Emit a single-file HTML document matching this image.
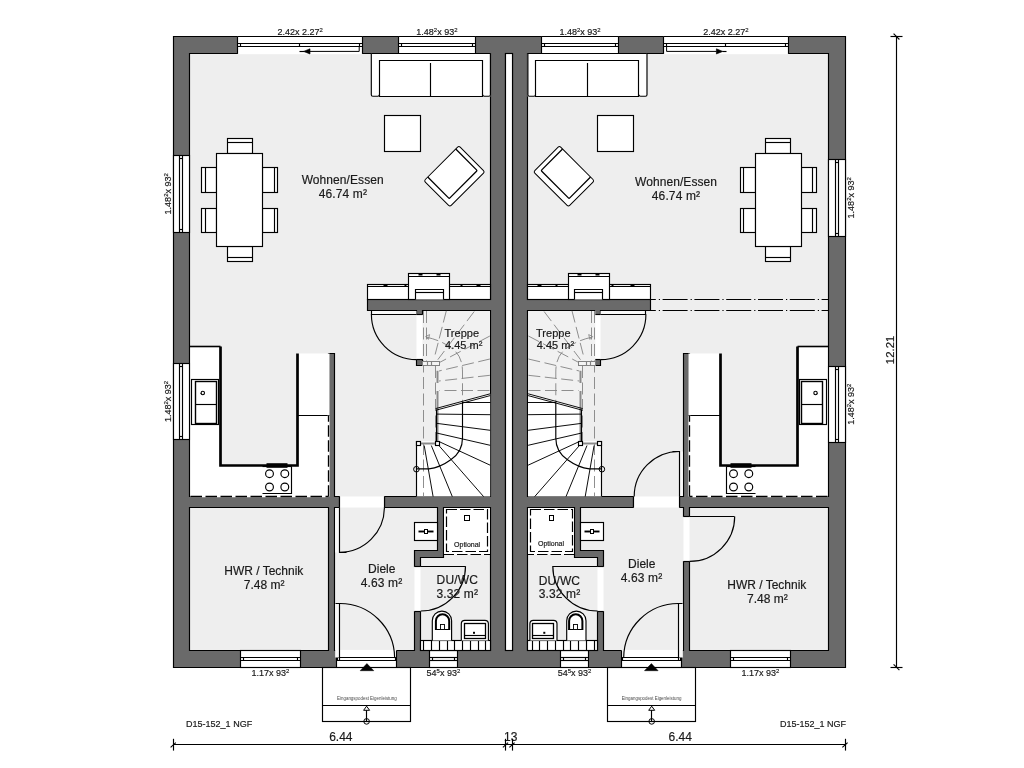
<!DOCTYPE html>
<html><head><meta charset="utf-8"><title>Grundriss</title>
<style>
html,body{margin:0;padding:0;background:#fff;}
body{width:1024px;height:768px;overflow:hidden;}
svg{display:block;will-change:transform;}
text{font-family:"Liberation Sans",sans-serif;stroke:#1a1a1a;stroke-width:0.18px;}
</style></head><body>
<svg width="1024" height="768" viewBox="0 0 1024 768">
<rect width="1024" height="768" fill="#fff"/>
<rect x="173.5" y="36.5" width="672" height="631" fill="#eeeeee"  />
<path d="M173.5,667.5 L189.5,667.5 L336.5,667.5 L490.5,667.5 L505.5,667.5 L512.5,667.5 L527.5,667.5 L828.5,667.5 L845.5,667.5 L845.5,650.5 L845.5,53.5 L845.5,36.5 L828.5,36.5 L527.5,36.5 L512.5,36.5 L505.5,36.5 L490.5,36.5 L189.5,36.5 L173.5,36.5 L173.5,53.5 L173.5,650.5 ZM334.5,650.5 L334.5,507.5 L339.5,507.5 L339.5,496.5 L334.5,496.5 L334.5,353.5 L328.5,353.5 L328.5,496.5 L189.5,496.5 L189.5,53.5 L490.5,53.5 L490.5,299.5 L367.5,299.5 L367.5,310.5 L416.5,310.5 L416.5,314.5 L422.5,314.5 L422.5,310.5 L490.5,310.5 L490.5,496.5 L384.5,496.5 L384.5,507.5 L437.5,507.5 L437.5,550.5 L420.5,550.5 L414.5,550.5 L414.5,557.5 L414.5,566.5 L420.5,566.5 L420.5,557.5 L437.5,557.5 L443.5,557.5 L443.5,550.5 L443.5,507.5 L490.5,507.5 L490.5,650.5 L420.5,650.5 L420.5,611.5 L414.5,611.5 L414.5,650.5 L336.5,650.5 ZM505.5,53.5 L512.5,53.5 L512.5,650.5 L505.5,650.5 ZM828.5,53.5 L828.5,496.5 L689.5,496.5 L689.5,353.5 L683.5,353.5 L683.5,496.5 L679.5,496.5 L679.5,507.5 L683.5,507.5 L683.5,516.5 L689.5,516.5 L689.5,507.5 L828.5,507.5 L828.5,650.5 L689.5,650.5 L689.5,561.5 L683.5,561.5 L683.5,650.5 L603.5,650.5 L603.5,611.5 L597.5,611.5 L597.5,650.5 L527.5,650.5 L527.5,507.5 L574.5,507.5 L574.5,550.5 L574.5,557.5 L580.5,557.5 L597.5,557.5 L597.5,566.5 L603.5,566.5 L603.5,557.5 L603.5,550.5 L597.5,550.5 L580.5,550.5 L580.5,507.5 L633.5,507.5 L633.5,496.5 L527.5,496.5 L527.5,310.5 L594.5,310.5 L594.5,314.5 L600.5,314.5 L600.5,310.5 L650.5,310.5 L650.5,299.5 L527.5,299.5 L527.5,53.5 ZM328.5,507.5 L328.5,650.5 L189.5,650.5 L189.5,507.5 ZM416.5,359.5 L416.5,365.5 L422.5,365.5 L422.5,359.5 ZM594.5,359.5 L594.5,365.5 L600.5,365.5 L600.5,359.5 Z" fill="#6a6a6a" stroke="#000" stroke-width="1.15" fill-rule="evenodd" stroke-linejoin="miter"/>
<rect x="505.5" y="53.5" width="7" height="597" fill="#fff" stroke="#000" stroke-width="1.15" />
<rect x="237.5" y="36.5" width="125" height="17" fill="#fff"  />
<rect x="237.5" y="36.5" width="125" height="17.7" fill="#fff"/>
<line x1="237.5" y1="36.5" x2="362.5" y2="36.5" stroke="#000" stroke-width="1.15" />
<line x1="237.5" y1="36.5" x2="237.5" y2="53.9" stroke="#000" stroke-width="1.15" />
<line x1="362.5" y1="36.5" x2="362.5" y2="53.9" stroke="#000" stroke-width="1.15" />
<line x1="237.5" y1="43.5" x2="362.5" y2="43.5" stroke="#000" stroke-width="1.15" />
<line x1="237.5" y1="46.5" x2="362.5" y2="46.5" stroke="#000" stroke-width="1.15" />
<line x1="240.5" y1="43.6" x2="240.5" y2="46.6" stroke="#000" stroke-width="1.15" />
<line x1="359.5" y1="43.6" x2="359.5" y2="46.6" stroke="#000" stroke-width="1.15" />
<rect x="398.5" y="36.5" width="77" height="17" fill="#fff"  />
<line x1="398.5" y1="36.5" x2="475.5" y2="36.5" stroke="#000" stroke-width="1.15" />
<line x1="398.5" y1="36.5" x2="398.5" y2="53.2" stroke="#000" stroke-width="1.15" />
<line x1="475.5" y1="36.5" x2="475.5" y2="53.2" stroke="#000" stroke-width="1.15" />
<line x1="398.5" y1="53.5" x2="475.5" y2="53.5" stroke="#000" stroke-width="1.15" />
<line x1="398.5" y1="43.5" x2="475.5" y2="43.5" stroke="#000" stroke-width="1.15" />
<line x1="398.5" y1="46.5" x2="475.5" y2="46.5" stroke="#000" stroke-width="1.15" />
<line x1="401.5" y1="43.6" x2="401.5" y2="46.6" stroke="#000" stroke-width="1.15" />
<line x1="472.5" y1="43.6" x2="472.5" y2="46.6" stroke="#000" stroke-width="1.15" />
<rect x="541.5" y="36.5" width="77" height="17" fill="#fff"  />
<line x1="541.5" y1="36.5" x2="618.5" y2="36.5" stroke="#000" stroke-width="1.15" />
<line x1="541.5" y1="36.5" x2="541.5" y2="53.2" stroke="#000" stroke-width="1.15" />
<line x1="618.5" y1="36.5" x2="618.5" y2="53.2" stroke="#000" stroke-width="1.15" />
<line x1="541.5" y1="53.5" x2="618.5" y2="53.5" stroke="#000" stroke-width="1.15" />
<line x1="541.5" y1="43.5" x2="618.5" y2="43.5" stroke="#000" stroke-width="1.15" />
<line x1="541.5" y1="46.5" x2="618.5" y2="46.5" stroke="#000" stroke-width="1.15" />
<line x1="544.5" y1="43.6" x2="544.5" y2="46.6" stroke="#000" stroke-width="1.15" />
<line x1="615.5" y1="43.6" x2="615.5" y2="46.6" stroke="#000" stroke-width="1.15" />
<rect x="663.5" y="36.5" width="125" height="17" fill="#fff"  />
<rect x="663.5" y="36.5" width="125" height="17.7" fill="#fff"/>
<line x1="663.5" y1="36.5" x2="788.5" y2="36.5" stroke="#000" stroke-width="1.15" />
<line x1="663.5" y1="36.5" x2="663.5" y2="53.9" stroke="#000" stroke-width="1.15" />
<line x1="788.5" y1="36.5" x2="788.5" y2="53.9" stroke="#000" stroke-width="1.15" />
<line x1="663.5" y1="43.5" x2="788.5" y2="43.5" stroke="#000" stroke-width="1.15" />
<line x1="663.5" y1="46.5" x2="788.5" y2="46.5" stroke="#000" stroke-width="1.15" />
<line x1="666.5" y1="43.6" x2="666.5" y2="46.6" stroke="#000" stroke-width="1.15" />
<line x1="785.5" y1="43.6" x2="785.5" y2="46.6" stroke="#000" stroke-width="1.15" />
<line x1="299.5" y1="43.3" x2="299.5" y2="46.3" stroke="#000" stroke-width="1.15" />
<line x1="725.5" y1="43.3" x2="725.5" y2="46.3" stroke="#000" stroke-width="1.15" />
<path d="M359.2,46.3 V51.4 H309" fill="none" stroke="#000" stroke-width="1" />
<polygon points="310,48.8 310,54 303.6,51.4" fill="#000" stroke="#000" stroke-width="0.6" />
<line x1="299.5" y1="51.5" x2="304.5" y2="51.5" stroke="#000" stroke-width="1.15" />
<path d="M666.6,46.3 V51.4 H716.5" fill="none" stroke="#000" stroke-width="1" />
<polygon points="716.4,48.8 716.4,54 722.8,51.4" fill="#000" stroke="#000" stroke-width="0.6" />
<line x1="722.5" y1="51.5" x2="726.5" y2="51.5" stroke="#000" stroke-width="1.15" />
<rect x="173.5" y="155.5" width="16" height="77" fill="#fff" stroke="#000" stroke-width="1.15" />
<line x1="179.5" y1="155.3" x2="179.5" y2="232.3" stroke="#000" stroke-width="1.15" />
<line x1="182.5" y1="155.3" x2="182.5" y2="232.3" stroke="#000" stroke-width="1.15" />
<line x1="179.5" y1="158.5" x2="182.5" y2="158.5" stroke="#000" stroke-width="1.15" />
<line x1="179.5" y1="229.5" x2="182.5" y2="229.5" stroke="#000" stroke-width="1.15" />
<rect x="173.5" y="363.5" width="16" height="76" fill="#fff" stroke="#000" stroke-width="1.15" />
<line x1="179.5" y1="363.4" x2="179.5" y2="439.4" stroke="#000" stroke-width="1.15" />
<line x1="182.5" y1="363.4" x2="182.5" y2="439.4" stroke="#000" stroke-width="1.15" />
<line x1="179.5" y1="366.5" x2="182.5" y2="366.5" stroke="#000" stroke-width="1.15" />
<line x1="179.5" y1="436.5" x2="182.5" y2="436.5" stroke="#000" stroke-width="1.15" />
<rect x="828.5" y="159.5" width="17" height="77" fill="#fff" stroke="#000" stroke-width="1.15" />
<line x1="835.5" y1="159" x2="835.5" y2="236.6" stroke="#000" stroke-width="1.15" />
<line x1="838.5" y1="159" x2="838.5" y2="236.6" stroke="#000" stroke-width="1.15" />
<line x1="835.5" y1="162.5" x2="838.5" y2="162.5" stroke="#000" stroke-width="1.15" />
<line x1="835.5" y1="233.5" x2="838.5" y2="233.5" stroke="#000" stroke-width="1.15" />
<rect x="828.5" y="366.5" width="17" height="76" fill="#fff" stroke="#000" stroke-width="1.15" />
<line x1="835.5" y1="366.2" x2="835.5" y2="442.1" stroke="#000" stroke-width="1.15" />
<line x1="838.5" y1="366.2" x2="838.5" y2="442.1" stroke="#000" stroke-width="1.15" />
<line x1="835.5" y1="369.5" x2="838.5" y2="369.5" stroke="#000" stroke-width="1.15" />
<line x1="835.5" y1="439.5" x2="838.5" y2="439.5" stroke="#000" stroke-width="1.15" />
<rect x="240.5" y="650.5" width="60" height="17" fill="#fff" stroke="#000" stroke-width="1.15" />
<line x1="240.5" y1="657.5" x2="300.5" y2="657.5" stroke="#000" stroke-width="1.15" />
<line x1="240.5" y1="660.5" x2="300.5" y2="660.5" stroke="#000" stroke-width="1.15" />
<line x1="243.5" y1="657.3" x2="243.5" y2="660.2" stroke="#000" stroke-width="1.15" />
<line x1="297.5" y1="657.3" x2="297.5" y2="660.2" stroke="#000" stroke-width="1.15" />
<rect x="429.5" y="650.5" width="28" height="17" fill="#fff" stroke="#000" stroke-width="1.15" />
<line x1="429.5" y1="657.5" x2="457.5" y2="657.5" stroke="#000" stroke-width="1.15" />
<line x1="429.5" y1="660.5" x2="457.5" y2="660.5" stroke="#000" stroke-width="1.15" />
<line x1="432.5" y1="657.3" x2="432.5" y2="660.2" stroke="#000" stroke-width="1.15" />
<line x1="454.5" y1="657.3" x2="454.5" y2="660.2" stroke="#000" stroke-width="1.15" />
<rect x="560.5" y="650.5" width="28" height="17" fill="#fff" stroke="#000" stroke-width="1.15" />
<line x1="560.5" y1="657.5" x2="588.5" y2="657.5" stroke="#000" stroke-width="1.15" />
<line x1="560.5" y1="660.5" x2="588.5" y2="660.5" stroke="#000" stroke-width="1.15" />
<line x1="563.5" y1="657.3" x2="563.5" y2="660.2" stroke="#000" stroke-width="1.15" />
<line x1="585.5" y1="657.3" x2="585.5" y2="660.2" stroke="#000" stroke-width="1.15" />
<rect x="730.5" y="650.5" width="60" height="17" fill="#fff" stroke="#000" stroke-width="1.15" />
<line x1="730.5" y1="657.5" x2="790.5" y2="657.5" stroke="#000" stroke-width="1.15" />
<line x1="730.5" y1="660.5" x2="790.5" y2="660.5" stroke="#000" stroke-width="1.15" />
<line x1="733.5" y1="657.3" x2="733.5" y2="660.2" stroke="#000" stroke-width="1.15" />
<line x1="787.5" y1="657.3" x2="787.5" y2="660.2" stroke="#000" stroke-width="1.15" />
<rect x="371.5" y="53.5" width="119" height="43" fill="#fff"  />
<path d="M371.3,53.5 V94.7 Q371.3,96.2 372.8,96.2 H377.8 Q379.3,96.2 379.3,94.7" fill="none" stroke="#000" stroke-width="1.15" />
<line x1="371.5" y1="53.5" x2="490.5" y2="53.5" stroke="#000" stroke-width="1.15" />
<path d="M482.8,94.7 Q482.8,96.2 484.3,96.2 H488.9 Q490.4,96.2 490.4,94.7 V53.5" fill="none" stroke="#000" stroke-width="1.15" />
<polygon points="379.5,96.5 379.5,60.5 482.5,60.5 482.5,96.5" fill="none" stroke="#000" stroke-width="1.15" />
<line x1="430.5" y1="63" x2="430.5" y2="96.2" stroke="#000" stroke-width="1.15" />
<rect x="384.5" y="115.5" width="36" height="36" fill="#fff" stroke="#000" stroke-width="1.15" />
<g transform="translate(454.4,176.3) rotate(45)">
<rect x="-18.3" y="-24.65" width="36.6" height="49.3" rx="1.8" fill="#fff" stroke="#000" stroke-width="1"/>
<path d="M-18.3,-20.2 H11.1 Q12.1,-20.2 12.1,-19.2 V18.4 Q12.1,19.4 11.1,19.4 H-18.3" fill="none" stroke="#000" stroke-width="1.3"/>
</g>
<rect x="227.5" y="138.5" width="25" height="15" fill="#fff" stroke="#000" stroke-width="1.15" />
<line x1="227.5" y1="142.5" x2="252.5" y2="142.5" stroke="#000" stroke-width="1.15" />
<rect x="227.5" y="246.5" width="25" height="15" fill="#fff" stroke="#000" stroke-width="1.15" />
<line x1="227.5" y1="257.5" x2="252.5" y2="257.5" stroke="#000" stroke-width="1.15" />
<rect x="201.5" y="167.5" width="15" height="25" fill="#fff" stroke="#000" stroke-width="1.15" />
<line x1="205.5" y1="167.1" x2="205.5" y2="192.7" stroke="#000" stroke-width="1.15" />
<rect x="262.5" y="167.5" width="15" height="25" fill="#fff" stroke="#000" stroke-width="1.15" />
<line x1="274.5" y1="167.1" x2="274.5" y2="192.7" stroke="#000" stroke-width="1.15" />
<rect x="201.5" y="208.5" width="15" height="24" fill="#fff" stroke="#000" stroke-width="1.15" />
<line x1="205.5" y1="208.3" x2="205.5" y2="232.7" stroke="#000" stroke-width="1.15" />
<rect x="262.5" y="208.5" width="15" height="24" fill="#fff" stroke="#000" stroke-width="1.15" />
<line x1="274.5" y1="208.3" x2="274.5" y2="232.7" stroke="#000" stroke-width="1.15" />
<rect x="216.5" y="153.5" width="46" height="93" fill="#fff" stroke="#000" stroke-width="1.15" />
<rect x="367.5" y="284.5" width="123" height="15" fill="#fff" stroke="#000" stroke-width="1.15" />
<line x1="367.5" y1="286.5" x2="490.5" y2="286.5" stroke="#000" stroke-width="1.15" />
<rect x="408.5" y="273.5" width="41" height="26" fill="#fff" stroke="#000" stroke-width="1.15" />
<line x1="408.5" y1="276.5" x2="449.5" y2="276.5" stroke="#000" stroke-width="1.15" />
<polyline points="415.5,299.5 415.5,289.5 443.5,289.5 443.5,299.5" fill="#fff" stroke="#000" stroke-width="1.15" />
<line x1="415.5" y1="292.5" x2="443.5" y2="292.5" stroke="#000" stroke-width="1.15" />
<line x1="383.5" y1="285.5" x2="387.5" y2="285.5" stroke="#000" stroke-width="2" />
<line x1="404.5" y1="285.5" x2="406.5" y2="285.5" stroke="#000" stroke-width="2" />
<line x1="460.5" y1="285.5" x2="462.5" y2="285.5" stroke="#000" stroke-width="2" />
<line x1="476.5" y1="285.5" x2="480.5" y2="285.5" stroke="#000" stroke-width="2" />
<line x1="418.5" y1="274.5" x2="422.5" y2="274.5" stroke="#000" stroke-width="2" />
<line x1="436.5" y1="274.5" x2="440.5" y2="274.5" stroke="#000" stroke-width="2" />
<polygon points="190.5,346.5 220.5,346.5 220.5,465.5 297.5,465.5 297.5,353.5 329.5,353.5 329.5,496.5 190.5,496.5" fill="#fff"  />
<line x1="189.5" y1="346.5" x2="220.5" y2="346.5" stroke="#000" stroke-width="1.6" />
<polyline points="220.5,346.5 220.5,465.5 297.5,465.5 297.5,353.5" fill="none" stroke="#000" stroke-width="2.7" />
<line x1="297.5" y1="415.5" x2="329.5" y2="415.5" stroke="#000" stroke-width="1.15" />
<line x1="190.5" y1="496.5" x2="328.5" y2="496.5" stroke="#fff" stroke-width="1.6" />
<line x1="328.5" y1="415.3" x2="328.5" y2="496.6" stroke="#fff" stroke-width="1.6" />
<line x1="190.5" y1="496.5" x2="328.5" y2="496.5" stroke="#000" stroke-width="1.3" stroke-dasharray="11.5 3.5"/>
<line x1="328.5" y1="415.3" x2="328.5" y2="496.6" stroke="#000" stroke-width="1.3" stroke-dasharray="11.5 3.5" stroke-dashoffset="5"/>
<rect x="191.5" y="379.5" width="27" height="45" fill="#fff" stroke="#000" stroke-width="1.15" />
<rect x="195.5" y="381.5" width="21" height="42" fill="#fff" stroke="#000" stroke-width="1.4" />
<line x1="195.5" y1="404.5" x2="216.5" y2="404.5" stroke="#000" stroke-width="1.15" />
<line x1="200.5" y1="393.5" x2="202.5" y2="393.5" stroke="#000" stroke-width="1.2" />
<circle cx="202.8" cy="393" r="1.7" fill="#fff" stroke="#000" stroke-width="1.1"/>
<polyline points="291.5,466.5 291.5,493.5 262.5,493.5" fill="none" stroke="#000" stroke-width="1.15" />
<line x1="262.5" y1="466.5" x2="291.5" y2="466.5" stroke="#000" stroke-width="1.15" />
<line x1="266.5" y1="465.5" x2="287.5" y2="465.5" stroke="#000" stroke-width="4.6" />
<circle cx="269.5" cy="473.7" r="3.9" fill="none" stroke="#000" stroke-width="1.15"/>
<circle cx="284.8" cy="473.7" r="3.9" fill="none" stroke="#000" stroke-width="1.15"/>
<circle cx="269.5" cy="487" r="3.9" fill="none" stroke="#000" stroke-width="1.15"/>
<circle cx="284.8" cy="487" r="3.9" fill="none" stroke="#000" stroke-width="1.15"/>
<rect x="414.5" y="522.5" width="23" height="18" fill="#fff" stroke="#000" stroke-width="1.15" />
<line x1="418.5" y1="531.5" x2="433.5" y2="531.5" stroke="#000" stroke-width="1.9" />
<rect x="424.5" y="529.5" width="3" height="4" fill="#fff" stroke="#000" stroke-width="1.0" />
<rect x="444.1" y="508.1" width="45.8" height="46.4" fill="#fff"/>
<rect x="446.5" y="509.5" width="41" height="42" fill="none" stroke="#000" stroke-width="1.2" stroke-dasharray="10.5 3"/>
<rect x="464.5" y="515.5" width="5" height="5" fill="#fff" stroke="#000" stroke-width="1.0" />
<line x1="443.5" y1="554.5" x2="490.5" y2="554.5" stroke="#000" stroke-width="1.2" stroke-dasharray="10.5 3"/>
<rect x="414.5" y="566.5" width="6" height="45" fill="#fff"  />
<line x1="414.5" y1="566.5" x2="420.5" y2="566.5" stroke="#000" stroke-width="1.15" />
<line x1="414.5" y1="611.5" x2="420.5" y2="611.5" stroke="#000" stroke-width="1.15" />
<line x1="420.5" y1="566.5" x2="465.5" y2="566.5" stroke="#000" stroke-width="1.15" />
<path d="M465.5,566.2 A44.8,44.8 0 0 1 420.7,611" fill="none" stroke="#000" stroke-width="1.15" />
<rect x="420.5" y="640.5" width="70" height="10" fill="#fff" stroke="#000" stroke-width="1.15" />
<line x1="423.5" y1="640.4" x2="423.5" y2="650.4" stroke="#000" stroke-width="1.15" />
<line x1="431.5" y1="640.4" x2="431.5" y2="650.4" stroke="#000" stroke-width="1.15" />
<line x1="439.5" y1="640.4" x2="439.5" y2="650.4" stroke="#000" stroke-width="1.15" />
<line x1="447.5" y1="640.4" x2="447.5" y2="650.4" stroke="#000" stroke-width="1.15" />
<line x1="454.5" y1="640.4" x2="454.5" y2="650.4" stroke="#000" stroke-width="1.15" />
<line x1="462.5" y1="640.4" x2="462.5" y2="650.4" stroke="#000" stroke-width="1.15" />
<line x1="470.5" y1="640.4" x2="470.5" y2="650.4" stroke="#000" stroke-width="1.15" />
<line x1="478.5" y1="640.4" x2="478.5" y2="650.4" stroke="#000" stroke-width="1.15" />
<line x1="485.5" y1="640.4" x2="485.5" y2="650.4" stroke="#000" stroke-width="1.15" />
<path d="M432.3,640.4 V620.7 A9.65,9.65 0 0 1 451.6,620.7 V640.4" fill="#fff" stroke="#000" stroke-width="1.15" />
<path d="M435.9,630.0 V620.9 A6.65,6.65 0 0 1 449.2,620.9 V630.0" fill="#fff" stroke="#000" stroke-width="2.0" />
<line x1="435.5" y1="629.5" x2="449.5" y2="629.5" stroke="#000" stroke-width="1.0" />
<rect x="440.5" y="624.5" width="4" height="5" fill="#fff" stroke="#000" stroke-width="0.9" />
<path d="M461.3,640.4 V623.8 Q461.3,620.3 464.8,620.3 H484.9 Q488.4,620.3 488.4,623.8 V640.4" fill="#fff" stroke="#000" stroke-width="1.15" />
<rect x="464.5" y="623.5" width="21" height="15" fill="#fff" stroke="#000" stroke-width="1.3" />
<line x1="464.5" y1="635.5" x2="485.5" y2="635.5" stroke="#000" stroke-width="1.15" />
<rect x="473" y="631.8" width="2" height="2" fill="#000"/>
<rect x="336.5" y="649.9" width="60" height="17.6" fill="#fff"/>
<line x1="336.5" y1="650.5" x2="336.5" y2="667.5" stroke="#000" stroke-width="1.15" />
<line x1="396.5" y1="650.5" x2="396.5" y2="667.5" stroke="#000" stroke-width="1.15" />
<line x1="336.5" y1="667.5" x2="396.5" y2="667.5" stroke="#000" stroke-width="1.15" />
<line x1="336.5" y1="657.5" x2="396.5" y2="657.5" stroke="#000" stroke-width="1.15" />
<line x1="336.5" y1="660.5" x2="396.5" y2="660.5" stroke="#000" stroke-width="1.15" />
<line x1="337.5" y1="657.3" x2="337.5" y2="660.2" stroke="#000" stroke-width="1.15" />
<line x1="395.5" y1="657.3" x2="395.5" y2="660.2" stroke="#000" stroke-width="1.15" />
<rect x="335.15" y="604" width="4.35" height="53.5" fill="#f8f8f8"/>
<polyline points="335.5,603.5 339.5,603.5 339.5,660.5" fill="none" stroke="#000" stroke-width="1.15" />
<path d="M339.5,603.5 A54.6,54.6 0 0 1 394.6,657.3" fill="none" stroke="#000" stroke-width="1.15" />
<rect x="322.5" y="667.5" width="88" height="54" fill="#fff" stroke="#000" stroke-width="1.15" />
<line x1="322.5" y1="705.5" x2="410.5" y2="705.5" stroke="#000" stroke-width="1.15" />
<circle cx="366.6" cy="721.4" r="2.8" fill="none" stroke="#000" stroke-width="1.0"/>
<line x1="366.5" y1="710" x2="366.5" y2="721.4" stroke="#000" stroke-width="1.15" />
<polygon points="366.6,706.2 363.6,710.3 369.6,710.3" fill="#fff" stroke="#000" stroke-width="1.0" />
<polygon points="366.9,663.6 360.2,670.7 373.8,670.7" fill="#000" stroke="#000" stroke-width="0.5" />
<rect x="416.5" y="314.5" width="6" height="45" fill="#fff"  />
<line x1="416.5" y1="314.5" x2="422.5" y2="314.5" stroke="#000" stroke-width="1.15" />
<line x1="416.5" y1="359.5" x2="422.5" y2="359.5" stroke="#000" stroke-width="1.15" />
<rect x="371.5" y="311.1" width="45" height="3.4" fill="#f8f8f8"/>
<polyline points="371.5,310.5 371.5,314.5 416.5,314.5" fill="none" stroke="#000" stroke-width="1.15" />
<path d="M371.4,314.3 A45.2,45.2 0 0 0 416.5,359.6" fill="none" stroke="#000" stroke-width="1.15" />
<rect x="527.5" y="53.5" width="119" height="43" fill="#fff"  />
<path d="M647,53.5 V94.7 Q647,96.2 645.5,96.2 H640.5 Q639,96.2 639,94.7" fill="none" stroke="#000" stroke-width="1.15" />
<line x1="646.5" y1="53.5" x2="527.5" y2="53.5" stroke="#000" stroke-width="1.15" />
<path d="M535.5,94.7 Q535.5,96.2 534,96.2 H529.4 Q527.9,96.2 527.9,94.7 V53.5" fill="none" stroke="#000" stroke-width="1.15" />
<polygon points="638.5,96.5 638.5,60.5 535.5,60.5 535.5,96.5" fill="none" stroke="#000" stroke-width="1.15" />
<line x1="587.5" y1="63" x2="587.5" y2="96.2" stroke="#000" stroke-width="1.15" />
<rect x="597.5" y="115.5" width="36" height="36" fill="#fff" stroke="#000" stroke-width="1.15" />
<g transform="translate(563.9,176.3) rotate(-45)">
<rect x="-18.3" y="-24.65" width="36.6" height="49.3" rx="1.8" fill="#fff" stroke="#000" stroke-width="1"/>
<path d="M18.3,-20.2 H-11.1 Q-12.1,-20.2 -12.1,-19.2 V18.4 Q-12.1,19.4 -11.1,19.4 H18.3" fill="none" stroke="#000" stroke-width="1.3"/>
</g>
<rect x="765.5" y="138.5" width="25" height="15" fill="#fff" stroke="#000" stroke-width="1.15" />
<line x1="790.5" y1="142.5" x2="765.5" y2="142.5" stroke="#000" stroke-width="1.15" />
<rect x="765.5" y="246.5" width="25" height="15" fill="#fff" stroke="#000" stroke-width="1.15" />
<line x1="790.5" y1="257.5" x2="765.5" y2="257.5" stroke="#000" stroke-width="1.15" />
<rect x="801.5" y="167.5" width="15" height="25" fill="#fff" stroke="#000" stroke-width="1.15" />
<line x1="812.5" y1="167.1" x2="812.5" y2="192.7" stroke="#000" stroke-width="1.15" />
<rect x="740.5" y="167.5" width="15" height="25" fill="#fff" stroke="#000" stroke-width="1.15" />
<line x1="743.5" y1="167.1" x2="743.5" y2="192.7" stroke="#000" stroke-width="1.15" />
<rect x="801.5" y="208.5" width="15" height="24" fill="#fff" stroke="#000" stroke-width="1.15" />
<line x1="812.5" y1="208.3" x2="812.5" y2="232.7" stroke="#000" stroke-width="1.15" />
<rect x="740.5" y="208.5" width="15" height="24" fill="#fff" stroke="#000" stroke-width="1.15" />
<line x1="743.5" y1="208.3" x2="743.5" y2="232.7" stroke="#000" stroke-width="1.15" />
<rect x="755.5" y="153.5" width="46" height="93" fill="#fff" stroke="#000" stroke-width="1.15" />
<rect x="527.5" y="284.5" width="123" height="15" fill="#fff" stroke="#000" stroke-width="1.15" />
<line x1="650.5" y1="286.5" x2="527.5" y2="286.5" stroke="#000" stroke-width="1.15" />
<rect x="568.5" y="273.5" width="41" height="26" fill="#fff" stroke="#000" stroke-width="1.15" />
<line x1="609.5" y1="276.5" x2="568.5" y2="276.5" stroke="#000" stroke-width="1.15" />
<polyline points="602.5,299.5 602.5,289.5 574.5,289.5 574.5,299.5" fill="#fff" stroke="#000" stroke-width="1.15" />
<line x1="602.5" y1="292.5" x2="574.5" y2="292.5" stroke="#000" stroke-width="1.15" />
<line x1="634.5" y1="285.5" x2="630.5" y2="285.5" stroke="#000" stroke-width="2" />
<line x1="613.5" y1="285.5" x2="611.5" y2="285.5" stroke="#000" stroke-width="2" />
<line x1="557.5" y1="285.5" x2="555.5" y2="285.5" stroke="#000" stroke-width="2" />
<line x1="541.5" y1="285.5" x2="537.5" y2="285.5" stroke="#000" stroke-width="2" />
<line x1="599.5" y1="274.5" x2="595.5" y2="274.5" stroke="#000" stroke-width="2" />
<line x1="581.5" y1="274.5" x2="577.5" y2="274.5" stroke="#000" stroke-width="2" />
<polygon points="827.5,346.5 797.5,346.5 797.5,465.5 720.5,465.5 720.5,353.5 688.5,353.5 688.5,496.5 827.5,496.5" fill="#fff"  />
<line x1="828.5" y1="346.5" x2="797.5" y2="346.5" stroke="#000" stroke-width="1.6" />
<polyline points="797.5,346.5 797.5,465.5 720.5,465.5 720.5,353.5" fill="none" stroke="#000" stroke-width="2.7" />
<line x1="720.5" y1="415.5" x2="688.5" y2="415.5" stroke="#000" stroke-width="1.15" />
<line x1="827.5" y1="496.5" x2="689.5" y2="496.5" stroke="#fff" stroke-width="1.6" />
<line x1="689.5" y1="415.3" x2="689.5" y2="496.6" stroke="#fff" stroke-width="1.6" />
<line x1="827.5" y1="496.5" x2="689.5" y2="496.5" stroke="#000" stroke-width="1.3" stroke-dasharray="11.5 3.5"/>
<line x1="689.5" y1="415.3" x2="689.5" y2="496.6" stroke="#000" stroke-width="1.3" stroke-dasharray="11.5 3.5" stroke-dashoffset="5"/>
<rect x="799.5" y="379.5" width="27" height="45" fill="#fff" stroke="#000" stroke-width="1.15" />
<rect x="801.5" y="381.5" width="21" height="42" fill="#fff" stroke="#000" stroke-width="1.4" />
<line x1="822.5" y1="404.5" x2="801.5" y2="404.5" stroke="#000" stroke-width="1.15" />
<line x1="817.5" y1="393.5" x2="815.5" y2="393.5" stroke="#000" stroke-width="1.2" />
<circle cx="815.5" cy="393" r="1.7" fill="#fff" stroke="#000" stroke-width="1.1"/>
<polyline points="726.5,466.5 726.5,493.5 755.5,493.5" fill="none" stroke="#000" stroke-width="1.15" />
<line x1="755.5" y1="466.5" x2="726.5" y2="466.5" stroke="#000" stroke-width="1.15" />
<line x1="751.5" y1="465.5" x2="730.5" y2="465.5" stroke="#000" stroke-width="4.6" />
<circle cx="748.8" cy="473.7" r="3.9" fill="none" stroke="#000" stroke-width="1.15"/>
<circle cx="733.5" cy="473.7" r="3.9" fill="none" stroke="#000" stroke-width="1.15"/>
<circle cx="748.8" cy="487" r="3.9" fill="none" stroke="#000" stroke-width="1.15"/>
<circle cx="733.5" cy="487" r="3.9" fill="none" stroke="#000" stroke-width="1.15"/>
<rect x="580.5" y="522.5" width="23" height="18" fill="#fff" stroke="#000" stroke-width="1.15" />
<line x1="599.5" y1="531.5" x2="584.5" y2="531.5" stroke="#000" stroke-width="1.9" />
<rect x="590.5" y="529.5" width="3" height="4" fill="#fff" stroke="#000" stroke-width="1.0" />
<rect x="528.1" y="508.1" width="45.8" height="46.4" fill="#fff"/>
<rect x="530.5" y="509.5" width="42" height="42" fill="none" stroke="#000" stroke-width="1.2" stroke-dasharray="10.5 3"/>
<rect x="549.5" y="515.5" width="4" height="5" fill="#fff" stroke="#000" stroke-width="1.0" />
<line x1="574.5" y1="554.5" x2="527.5" y2="554.5" stroke="#000" stroke-width="1.2" stroke-dasharray="10.5 3"/>
<rect x="597.5" y="566.5" width="6" height="45" fill="#fff"  />
<line x1="603.5" y1="566.5" x2="597.5" y2="566.5" stroke="#000" stroke-width="1.15" />
<line x1="603.5" y1="611.5" x2="597.5" y2="611.5" stroke="#000" stroke-width="1.15" />
<line x1="597.5" y1="566.5" x2="552.5" y2="566.5" stroke="#000" stroke-width="1.15" />
<path d="M552.8,566.2 A44.8,44.8 0 0 0 597.6,611" fill="none" stroke="#000" stroke-width="1.15" />
<rect x="527.5" y="640.5" width="70" height="10" fill="#fff" stroke="#000" stroke-width="1.15" />
<line x1="594.5" y1="640.4" x2="594.5" y2="650.4" stroke="#000" stroke-width="1.15" />
<line x1="586.5" y1="640.4" x2="586.5" y2="650.4" stroke="#000" stroke-width="1.15" />
<line x1="578.5" y1="640.4" x2="578.5" y2="650.4" stroke="#000" stroke-width="1.15" />
<line x1="570.5" y1="640.4" x2="570.5" y2="650.4" stroke="#000" stroke-width="1.15" />
<line x1="563.5" y1="640.4" x2="563.5" y2="650.4" stroke="#000" stroke-width="1.15" />
<line x1="555.5" y1="640.4" x2="555.5" y2="650.4" stroke="#000" stroke-width="1.15" />
<line x1="547.5" y1="640.4" x2="547.5" y2="650.4" stroke="#000" stroke-width="1.15" />
<line x1="539.5" y1="640.4" x2="539.5" y2="650.4" stroke="#000" stroke-width="1.15" />
<line x1="532.5" y1="640.4" x2="532.5" y2="650.4" stroke="#000" stroke-width="1.15" />
<path d="M586,640.4 V620.7 A9.65,9.65 0 0 0 566.7,620.7 V640.4" fill="#fff" stroke="#000" stroke-width="1.15" />
<path d="M582.4,630.0 V620.9 A6.65,6.65 0 0 0 569.1,620.9 V630.0" fill="#fff" stroke="#000" stroke-width="2.0" />
<line x1="582.5" y1="629.5" x2="568.5" y2="629.5" stroke="#000" stroke-width="1.0" />
<rect x="573.5" y="624.5" width="4" height="5" fill="#fff" stroke="#000" stroke-width="0.9" />
<path d="M557,640.4 V623.8 Q557,620.3 553.5,620.3 H533.4 Q529.9,620.3 529.9,623.8 V640.4" fill="#fff" stroke="#000" stroke-width="1.15" />
<rect x="532.5" y="623.5" width="21" height="15" fill="#fff" stroke="#000" stroke-width="1.3" />
<line x1="553.5" y1="635.5" x2="532.5" y2="635.5" stroke="#000" stroke-width="1.15" />
<rect x="543.3" y="631.8" width="2" height="2" fill="#000"/>
<rect x="621.5" y="649.9" width="60" height="17.6" fill="#fff"/>
<line x1="681.5" y1="650.5" x2="681.5" y2="667.5" stroke="#000" stroke-width="1.15" />
<line x1="621.5" y1="650.5" x2="621.5" y2="667.5" stroke="#000" stroke-width="1.15" />
<line x1="681.5" y1="667.5" x2="621.5" y2="667.5" stroke="#000" stroke-width="1.15" />
<line x1="681.5" y1="657.5" x2="621.5" y2="657.5" stroke="#000" stroke-width="1.15" />
<line x1="681.5" y1="660.5" x2="621.5" y2="660.5" stroke="#000" stroke-width="1.15" />
<line x1="680.5" y1="657.3" x2="680.5" y2="660.2" stroke="#000" stroke-width="1.15" />
<line x1="622.5" y1="657.3" x2="622.5" y2="660.2" stroke="#000" stroke-width="1.15" />
<rect x="678.5" y="604" width="4.35" height="53.5" fill="#f8f8f8"/>
<polyline points="682.5,603.5 678.5,603.5 678.5,660.5" fill="none" stroke="#000" stroke-width="1.15" />
<path d="M678.8,603.5 A54.6,54.6 0 0 0 623.7,657.3" fill="none" stroke="#000" stroke-width="1.15" />
<rect x="607.5" y="667.5" width="88" height="54" fill="#fff" stroke="#000" stroke-width="1.15" />
<line x1="695.5" y1="705.5" x2="607.5" y2="705.5" stroke="#000" stroke-width="1.15" />
<circle cx="651.7" cy="721.4" r="2.8" fill="none" stroke="#000" stroke-width="1.0"/>
<line x1="651.5" y1="710" x2="651.5" y2="721.4" stroke="#000" stroke-width="1.15" />
<polygon points="651.7,706.2 654.7,710.3 648.7,710.3" fill="#fff" stroke="#000" stroke-width="1.0" />
<polygon points="651.4,663.6 658.1,670.7 644.5,670.7" fill="#000" stroke="#000" stroke-width="0.5" />
<rect x="594.5" y="314.5" width="6" height="45" fill="#fff"  />
<line x1="600.5" y1="314.5" x2="594.5" y2="314.5" stroke="#000" stroke-width="1.15" />
<line x1="600.5" y1="359.5" x2="594.5" y2="359.5" stroke="#000" stroke-width="1.15" />
<rect x="600.5" y="311.1" width="45" height="3.4" fill="#f8f8f8"/>
<polyline points="645.5,310.5 645.5,314.5 600.5,314.5" fill="none" stroke="#000" stroke-width="1.15" />
<path d="M645.9,314.3 A45.2,45.2 0 0 1 600.8,359.6" fill="none" stroke="#000" stroke-width="1.15" />
<rect x="339.5" y="496.5" width="45" height="11" fill="#fff"  />
<line x1="339.5" y1="496.6" x2="339.5" y2="507.3" stroke="#000" stroke-width="1.15" />
<line x1="384.5" y1="496.6" x2="384.5" y2="507.3" stroke="#000" stroke-width="1.15" />
<rect x="335.15" y="508.1" width="4.35" height="44.4" fill="#f8f8f8"/>
<polyline points="339.5,507.5 339.5,552.5 346.5,552.5" fill="none" stroke="#000" stroke-width="1.15" />
<path d="M384.4,507.3 A45,45 0 0 1 339.4,552.4" fill="none" stroke="#000" stroke-width="1.15" />
<rect x="633.5" y="496.5" width="46" height="11" fill="#fff"  />
<line x1="633.5" y1="496.6" x2="633.5" y2="507.3" stroke="#000" stroke-width="1.15" />
<line x1="679.5" y1="496.6" x2="679.5" y2="507.3" stroke="#000" stroke-width="1.15" />
<rect x="679.5" y="451.5" width="3.35" height="44.4" fill="#f8f8f8"/>
<polyline points="672.5,451.5 679.5,451.5 679.5,496.5" fill="none" stroke="#000" stroke-width="1.15" />
<path d="M634.2,496.6 A45,45 0 0 1 679.3,451.5" fill="none" stroke="#000" stroke-width="1.15" />
<rect x="683.5" y="516.5" width="6" height="45" fill="#fff"  />
<line x1="683.5" y1="516.5" x2="689.5" y2="516.5" stroke="#000" stroke-width="1.15" />
<line x1="683.5" y1="561.5" x2="689.5" y2="561.5" stroke="#000" stroke-width="1.15" />
<line x1="689.5" y1="516.5" x2="734.5" y2="516.5" stroke="#000" stroke-width="1.15" />
<path d="M734.7,516.5 A45,45 0 0 1 689.6,561.4" fill="none" stroke="#000" stroke-width="1.15" />
<line x1="650.5" y1="299.5" x2="828.5" y2="299.5" stroke="#000" stroke-width="1.2" stroke-dasharray="25 3 1.2 2.6" stroke-dashoffset="19.7"/>
<line x1="650.5" y1="310.5" x2="828.5" y2="310.5" stroke="#000" stroke-width="1.2" stroke-dasharray="25 3 1.2 2.6" stroke-dashoffset="19.7"/>
<polygon points="423,311 490,311 490,394 436,408.6 436,365.6 423,365.6" fill="#f1f1f1"  />
<polygon points="435.6,408.6 490.2,393.8 490.2,496.6 416.3,496.6 416.3,441.3 437,441.3" fill="#fff"  />
<line x1="423.5" y1="311" x2="423.5" y2="496.6" stroke="#828282" stroke-width="0.9" stroke-dasharray="12 4.5"/>
<line x1="426.5" y1="311" x2="426.5" y2="363" stroke="#828282" stroke-width="0.9" stroke-dasharray="12 4.5"/>
<line x1="435.5" y1="366" x2="435.5" y2="441" stroke="#828282" stroke-width="0.9" stroke-dasharray="12 4.5"/>
<path d="M426.5,337.2 Q444,341 455,351 Q462.5,358 462.5,372 V402" fill="none" stroke="#828282" stroke-width="0.9" stroke-dasharray="12 4.5"/>
<polygon points="425.6,336.6 429.6,334.6 428.4,339.4" fill="none" stroke="#828282" stroke-width="0.8" />
<line x1="446.3" y1="310.9" x2="434.5" y2="357" stroke="#828282" stroke-width="0.9" stroke-dasharray="12 4.5"/>
<line x1="474.2" y1="311.5" x2="437.8" y2="359.7" stroke="#828282" stroke-width="0.9" stroke-dasharray="12 4.5"/>
<line x1="489.9" y1="336" x2="438.5" y2="363" stroke="#828282" stroke-width="0.9" stroke-dasharray="12 4.5"/>
<line x1="489.9" y1="359" x2="439" y2="371" stroke="#828282" stroke-width="0.9" stroke-dasharray="12 4.5"/>
<line x1="489.9" y1="375.3" x2="439" y2="381" stroke="#828282" stroke-width="0.9" stroke-dasharray="12 4.5"/>
<line x1="489.5" y1="390.5" x2="439.5" y2="390.5" stroke="#828282" stroke-width="0.9" stroke-dasharray="12 4.5"/>
<rect x="422.5" y="361.5" width="17" height="4" fill="#f4f4f4" stroke="#828282" stroke-width="1" />
<line x1="427.5" y1="361.2" x2="427.5" y2="365.2" stroke="#828282" stroke-width="1.15" />
<line x1="431.5" y1="361.2" x2="431.5" y2="365.2" stroke="#828282" stroke-width="1.15" />
<line x1="437.5" y1="370.8" x2="437.5" y2="383" stroke="#8a8a8a" stroke-width="2" />
<line x1="437.5" y1="391" x2="437.5" y2="441" stroke="#8a8a8a" stroke-width="2" />
<line x1="435.6" y1="408.6" x2="490.2" y2="393.8" stroke="#000" stroke-width="0.95" />
<line x1="436" y1="410.2" x2="490.2" y2="395.6" stroke="#000" stroke-width="0.95" />
<polyline points="436.5,409.5 436.5,441.5" fill="none" stroke="#000" stroke-width="1.15" />
<polyline points="420.5,441.5 416.5,441.5 416.5,496.5" fill="none" stroke="#000" stroke-width="1.15" />
<line x1="420.5" y1="443.5" x2="435.5" y2="443.5" stroke="#8a8a8a" stroke-width="2" />
<rect x="416.5" y="441.5" width="4" height="4" fill="#fff" stroke="#000" stroke-width="1.15" />
<rect x="435.5" y="441.5" width="4" height="4" fill="#fff" stroke="#000" stroke-width="1.15" />
<line x1="462.5" y1="402.5" x2="490.5" y2="402.5" stroke="#000" stroke-width="0.95" />
<line x1="437" y1="414.1" x2="490.2" y2="414.7" stroke="#000" stroke-width="0.95" />
<line x1="437" y1="423.4" x2="490.2" y2="430.3" stroke="#000" stroke-width="0.95" />
<line x1="437" y1="433.1" x2="490.2" y2="445.3" stroke="#000" stroke-width="0.95" />
<line x1="439.3" y1="441.7" x2="490.2" y2="465.2" stroke="#000" stroke-width="0.95" />
<line x1="439.3" y1="446" x2="483.6" y2="496.6" stroke="#000" stroke-width="0.95" />
<line x1="431.3" y1="445.5" x2="452.3" y2="496.6" stroke="#000" stroke-width="0.95" />
<line x1="424.2" y1="445.5" x2="433.1" y2="496.6" stroke="#000" stroke-width="0.95" />
<path d="M462.5,401.9 V438 Q462.5,452 450.8,459.7 Q440,467.5 428.9,468.9 H416.4" fill="none" stroke="#000" stroke-width="1.15" />
<circle cx="416.4" cy="469.2" r="2.8" fill="none" stroke="#000" stroke-width="1.0"/>
<polygon points="595.3,311 528.3,311 528.3,394 582.3,408.6 582.3,365.6 595.3,365.6" fill="#f1f1f1"  />
<polygon points="582.7,408.6 528.1,393.8 528.1,496.6 602,496.6 602,441.3 581.3,441.3" fill="#fff"  />
<line x1="594.5" y1="311" x2="594.5" y2="496.6" stroke="#828282" stroke-width="0.9" stroke-dasharray="12 4.5"/>
<line x1="591.5" y1="311" x2="591.5" y2="363" stroke="#828282" stroke-width="0.9" stroke-dasharray="12 4.5"/>
<line x1="582.5" y1="366" x2="582.5" y2="441" stroke="#828282" stroke-width="0.9" stroke-dasharray="12 4.5"/>
<path d="M591.8,337.2 Q574.3,341 563.3,351 Q555.8,358 555.8,372 V402" fill="none" stroke="#828282" stroke-width="0.9" stroke-dasharray="12 4.5"/>
<polygon points="592.7,336.6 588.7,334.6 589.9,339.4" fill="none" stroke="#828282" stroke-width="0.8" />
<line x1="572" y1="310.9" x2="583.8" y2="357" stroke="#828282" stroke-width="0.9" stroke-dasharray="12 4.5"/>
<line x1="544.1" y1="311.5" x2="580.5" y2="359.7" stroke="#828282" stroke-width="0.9" stroke-dasharray="12 4.5"/>
<line x1="528.4" y1="336" x2="579.8" y2="363" stroke="#828282" stroke-width="0.9" stroke-dasharray="12 4.5"/>
<line x1="528.4" y1="359" x2="579.3" y2="371" stroke="#828282" stroke-width="0.9" stroke-dasharray="12 4.5"/>
<line x1="528.4" y1="375.3" x2="579.3" y2="381" stroke="#828282" stroke-width="0.9" stroke-dasharray="12 4.5"/>
<line x1="528.5" y1="390.5" x2="578.5" y2="390.5" stroke="#828282" stroke-width="0.9" stroke-dasharray="12 4.5"/>
<rect x="578.5" y="361.5" width="17" height="4" fill="#f4f4f4" stroke="#828282" stroke-width="1" />
<line x1="590.5" y1="361.2" x2="590.5" y2="365.2" stroke="#828282" stroke-width="1.15" />
<line x1="586.5" y1="361.2" x2="586.5" y2="365.2" stroke="#828282" stroke-width="1.15" />
<line x1="580.5" y1="370.8" x2="580.5" y2="383" stroke="#8a8a8a" stroke-width="2" />
<line x1="580.5" y1="391" x2="580.5" y2="441" stroke="#8a8a8a" stroke-width="2" />
<line x1="582.7" y1="408.6" x2="528.1" y2="393.8" stroke="#000" stroke-width="0.95" />
<line x1="582.3" y1="410.2" x2="528.1" y2="395.6" stroke="#000" stroke-width="0.95" />
<polyline points="581.5,409.5 581.5,441.5" fill="none" stroke="#000" stroke-width="1.15" />
<polyline points="597.5,441.5 601.5,441.5 601.5,496.5" fill="none" stroke="#000" stroke-width="1.15" />
<line x1="597.5" y1="443.5" x2="582.5" y2="443.5" stroke="#8a8a8a" stroke-width="2" />
<rect x="597.5" y="441.5" width="4" height="4" fill="#fff" stroke="#000" stroke-width="1.15" />
<rect x="578.5" y="441.5" width="4" height="4" fill="#fff" stroke="#000" stroke-width="1.15" />
<line x1="555.5" y1="402.5" x2="527.5" y2="402.5" stroke="#000" stroke-width="0.95" />
<line x1="581.3" y1="414.1" x2="528.1" y2="414.7" stroke="#000" stroke-width="0.95" />
<line x1="581.3" y1="423.4" x2="528.1" y2="430.3" stroke="#000" stroke-width="0.95" />
<line x1="581.3" y1="433.1" x2="528.1" y2="445.3" stroke="#000" stroke-width="0.95" />
<line x1="579" y1="441.7" x2="528.1" y2="465.2" stroke="#000" stroke-width="0.95" />
<line x1="579" y1="446" x2="534.7" y2="496.6" stroke="#000" stroke-width="0.95" />
<line x1="587" y1="445.5" x2="566" y2="496.6" stroke="#000" stroke-width="0.95" />
<line x1="594.1" y1="445.5" x2="585.2" y2="496.6" stroke="#000" stroke-width="0.95" />
<path d="M555.8,401.9 V438 Q555.8,452 567.5,459.7 Q578.3,467.5 589.4,468.9 H601.9" fill="none" stroke="#000" stroke-width="1.15" />
<circle cx="601.9" cy="469.2" r="2.8" fill="none" stroke="#000" stroke-width="1.0"/>
<text x="342.7" y="184.4" font-size="12" text-anchor="middle" fill="#1a1a1a" letter-spacing="0.08">Wohnen/Essen</text>
<text x="342.9" y="198" font-size="12" text-anchor="middle" fill="#1a1a1a" letter-spacing="0.12">46.74 m²</text>
<text x="676" y="185.5" font-size="12" text-anchor="middle" fill="#1a1a1a" letter-spacing="0.08">Wohnen/Essen</text>
<text x="676" y="199.5" font-size="12" text-anchor="middle" fill="#1a1a1a" letter-spacing="0.12">46.74 m²</text>
<text x="461.8" y="336.9" font-size="11" text-anchor="middle" fill="#1a1a1a" >Treppe</text>
<text x="463.7" y="349.2" font-size="11" text-anchor="middle" fill="#1a1a1a" >4.45 m²</text>
<text x="553.3" y="336.6" font-size="11" text-anchor="middle" fill="#1a1a1a" >Treppe</text>
<text x="555.4" y="349.3" font-size="11" text-anchor="middle" fill="#1a1a1a" >4.45 m²</text>
<text x="263.8" y="575.2" font-size="12" text-anchor="middle" fill="#1a1a1a" >HWR / Technik</text>
<text x="264.1" y="588.8" font-size="12" text-anchor="middle" fill="#1a1a1a" >7.48 m²</text>
<text x="766.8" y="589.3" font-size="12" text-anchor="middle" fill="#1a1a1a" >HWR / Technik</text>
<text x="767.3" y="603" font-size="12" text-anchor="middle" fill="#1a1a1a" >7.48 m²</text>
<text x="381.8" y="572.7" font-size="12" text-anchor="middle" fill="#1a1a1a" >Diele</text>
<text x="381.5" y="586.8" font-size="12" text-anchor="middle" fill="#1a1a1a" letter-spacing="0.12">4.63 m²</text>
<text x="641.8" y="568" font-size="12" text-anchor="middle" fill="#1a1a1a" >Diele</text>
<text x="641.5" y="582.2" font-size="12" text-anchor="middle" fill="#1a1a1a" letter-spacing="0.12">4.63 m²</text>
<text x="457.3" y="583.7" font-size="12" text-anchor="middle" fill="#1a1a1a" letter-spacing="0.15">DU/WC</text>
<text x="457.3" y="597.6" font-size="12" text-anchor="middle" fill="#1a1a1a" letter-spacing="0.12">3.32 m²</text>
<text x="559.5" y="584.7" font-size="12" text-anchor="middle" fill="#1a1a1a" letter-spacing="0.15">DU/WC</text>
<text x="559.5" y="598.3" font-size="12" text-anchor="middle" fill="#1a1a1a" letter-spacing="0.12">3.32 m²</text>
<text x="467.1" y="546.5" font-size="7" text-anchor="middle" fill="#1a1a1a" >Optional</text>
<text x="551" y="545.9" font-size="7" text-anchor="middle" fill="#1a1a1a" >Optional</text>
<text x="300.1" y="34.9" font-size="9" text-anchor="middle" fill="#1a1a1a" >2.42x 2.27<tspan dy="-3.24" font-size="5.94">2</tspan></text>
<text x="436.9" y="34.9" font-size="9" text-anchor="middle" fill="#1a1a1a" >1.48<tspan dy="-3.24" font-size="5.94">2</tspan><tspan dy="3.24">x</tspan> 93<tspan dy="-3.24" font-size="5.94">2</tspan></text>
<text x="580" y="34.9" font-size="9" text-anchor="middle" fill="#1a1a1a" >1.48<tspan dy="-3.24" font-size="5.94">2</tspan><tspan dy="3.24">x</tspan> 93<tspan dy="-3.24" font-size="5.94">2</tspan></text>
<text x="725.9" y="34.9" font-size="9" text-anchor="middle" fill="#1a1a1a" >2.42x 2.27<tspan dy="-3.24" font-size="5.94">2</tspan></text>
<text x="270.4" y="675.9" font-size="9" text-anchor="middle" fill="#1a1a1a" >1.17x 93<tspan dy="-3.24" font-size="5.94">2</tspan></text>
<text x="443.4" y="675.9" font-size="9" text-anchor="middle" fill="#1a1a1a" >54<tspan dy="-3.24" font-size="5.94">5</tspan><tspan dy="3.24">x</tspan> 93<tspan dy="-3.24" font-size="5.94">2</tspan></text>
<text x="574.6" y="675.9" font-size="9" text-anchor="middle" fill="#1a1a1a" >54<tspan dy="-3.24" font-size="5.94">5</tspan><tspan dy="3.24">x</tspan> 93<tspan dy="-3.24" font-size="5.94">2</tspan></text>
<text x="760.3" y="675.9" font-size="9" text-anchor="middle" fill="#1a1a1a" >1.17x 93<tspan dy="-3.24" font-size="5.94">2</tspan></text>
<text x="171.3" y="193.8" font-size="9" text-anchor="middle" fill="#1a1a1a" transform="rotate(-90 171.3 193.8)">1.48<tspan dy="-3.24" font-size="5.94">2</tspan><tspan dy="3.24">x</tspan> 93<tspan dy="-3.24" font-size="5.94">2</tspan></text>
<text x="171.3" y="401.4" font-size="9" text-anchor="middle" fill="#1a1a1a" transform="rotate(-90 171.3 401.4)">1.48<tspan dy="-3.24" font-size="5.94">2</tspan><tspan dy="3.24">x</tspan> 93<tspan dy="-3.24" font-size="5.94">2</tspan></text>
<text x="854" y="197.8" font-size="9" text-anchor="middle" fill="#1a1a1a" transform="rotate(-90 854 197.8)">1.48<tspan dy="-3.24" font-size="5.94">2</tspan><tspan dy="3.24">x</tspan> 93<tspan dy="-3.24" font-size="5.94">2</tspan></text>
<text x="854" y="404.2" font-size="9" text-anchor="middle" fill="#1a1a1a" transform="rotate(-90 854 404.2)">1.48<tspan dy="-3.24" font-size="5.94">2</tspan><tspan dy="3.24">x</tspan> 93<tspan dy="-3.24" font-size="5.94">2</tspan></text>
<text x="366.9" y="699.9" font-size="4.45" text-anchor="middle" fill="#4a4a4a" style="stroke:none">Eingangspodest Eigenleistung</text>
<text x="651.5" y="699.9" font-size="4.45" text-anchor="middle" fill="#4a4a4a" style="stroke:none">Eingangspodest Eigenleistung</text>
<text x="186.1" y="727" font-size="9" text-anchor="start" fill="#1a1a1a" >D15-152_1 NGF</text>
<text x="780" y="727" font-size="9" text-anchor="start" fill="#1a1a1a" >D15-152_1 NGF</text>
<text x="329.2" y="740.6" font-size="12" text-anchor="start" fill="#1a1a1a" >6.44</text>
<text x="668.6" y="740.6" font-size="12" text-anchor="start" fill="#1a1a1a" >6.44</text>
<text x="504" y="740.6" font-size="12" text-anchor="start" fill="#1a1a1a" >13</text>
<line x1="173.5" y1="744.5" x2="845.5" y2="744.5" stroke="#000" stroke-width="1.15" />
<line x1="173.5" y1="738.8" x2="173.5" y2="750.6" stroke="#000" stroke-width="1.15" />
<line x1="170.6" y1="747.4" x2="175.8" y2="742.6" stroke="#000" stroke-width="1.1" />
<line x1="505.5" y1="738.8" x2="505.5" y2="750.6" stroke="#000" stroke-width="1.15" />
<line x1="502.9" y1="747.4" x2="508.1" y2="742.6" stroke="#000" stroke-width="1.1" />
<line x1="512.5" y1="738.8" x2="512.5" y2="750.6" stroke="#000" stroke-width="1.15" />
<line x1="509.4" y1="747.4" x2="514.6" y2="742.6" stroke="#000" stroke-width="1.1" />
<line x1="845.5" y1="738.8" x2="845.5" y2="750.6" stroke="#000" stroke-width="1.15" />
<line x1="842.4" y1="747.4" x2="847.6" y2="742.6" stroke="#000" stroke-width="1.1" />
<line x1="896.5" y1="36.5" x2="896.5" y2="667.2" stroke="#000" stroke-width="1.15" />
<line x1="890.5" y1="36.5" x2="902.5" y2="36.5" stroke="#000" stroke-width="1.15" />
<line x1="893.6" y1="33.7" x2="899.4" y2="39.5" stroke="#000" stroke-width="1.1" />
<line x1="890.5" y1="667.5" x2="902.5" y2="667.5" stroke="#000" stroke-width="1.15" />
<line x1="893.6" y1="664.4" x2="899.4" y2="670.2" stroke="#000" stroke-width="1.1" />
<text x="893.8" y="349.9" font-size="11.4" text-anchor="middle" fill="#1a1a1a" transform="rotate(-90 893.8 349.9)">12.21</text>
</svg>
</body></html>
